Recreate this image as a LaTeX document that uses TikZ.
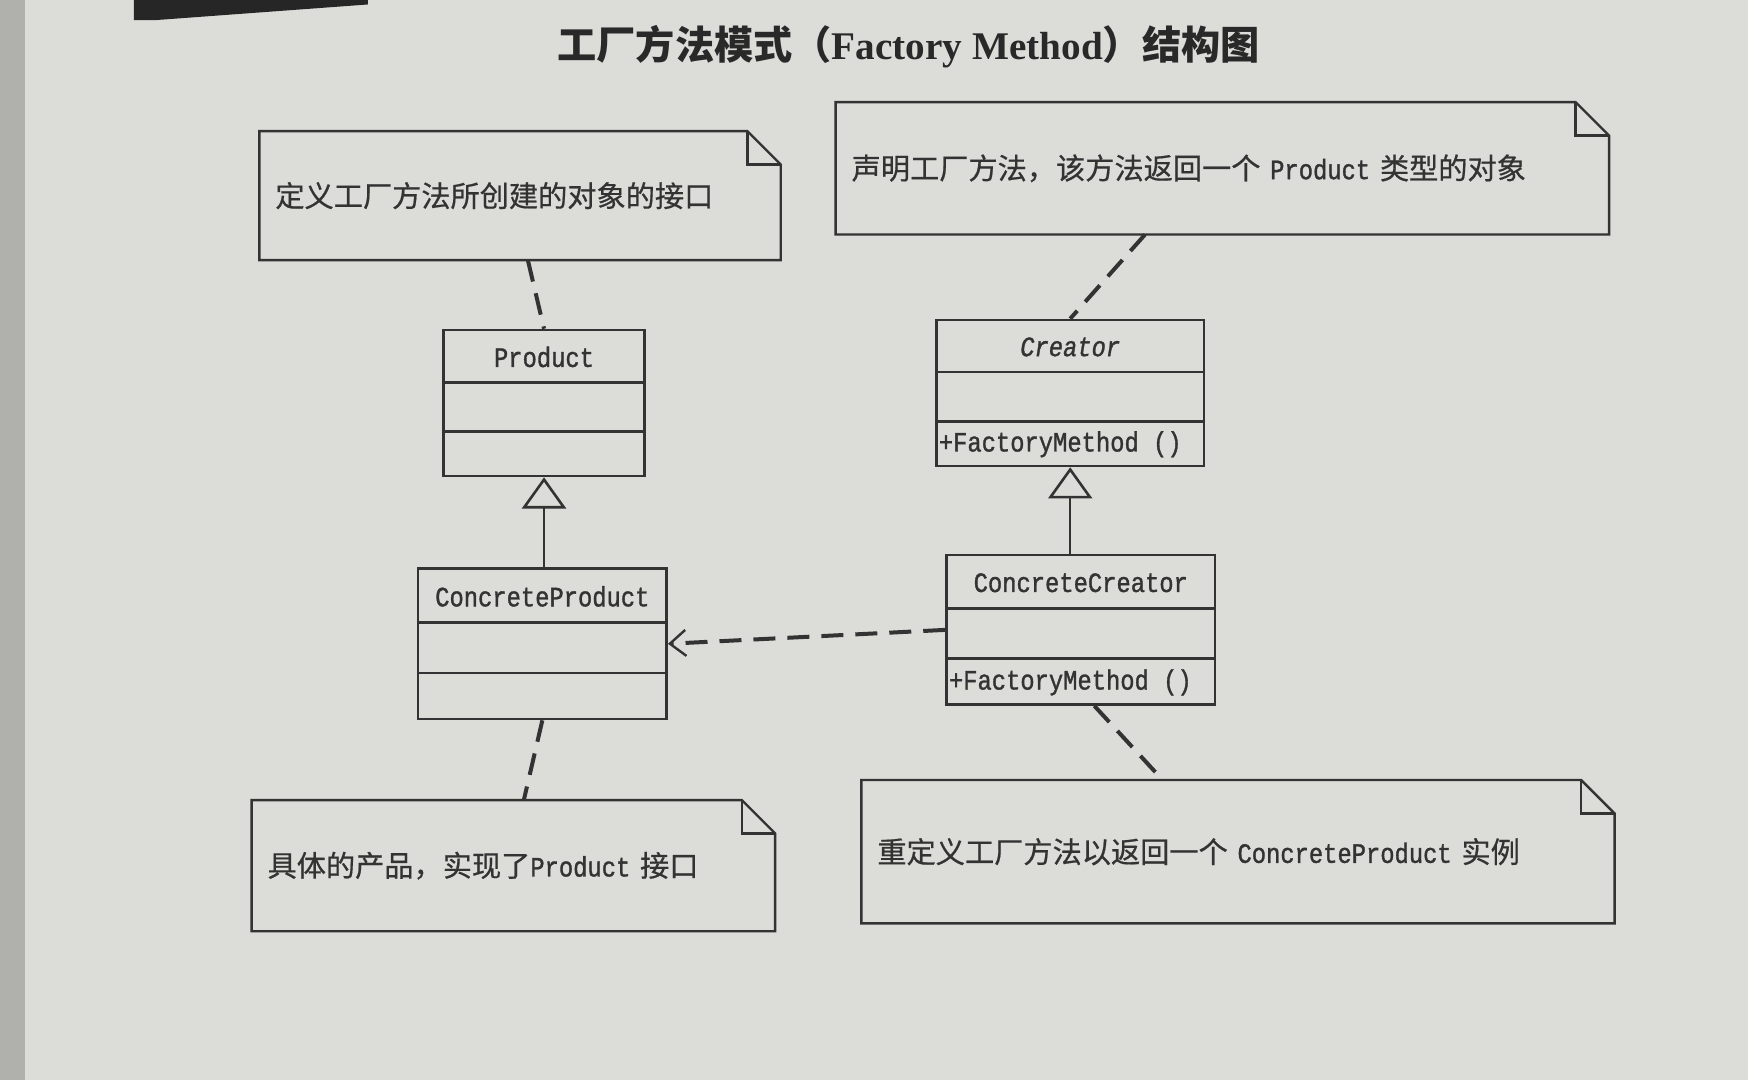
\documentclass[tikz,border=0pt]{standalone}
\usepackage{fontspec}
\setmainfont{Liberation Serif}
\newfontfamily\cjk{Noto Sans CJK SC}
\newfontfamily\notefont{Noto Sans CJK SC}[FakeBold=0.6]
\newfontfamily\umlfont{Liberation Mono}[FakeStretch=0.85, FakeBold=1.2]
\usetikzlibrary{arrows.meta,calc}

\definecolor{paper}{HTML}{DCDCD8}
\definecolor{ink}{HTML}{333333}

\newcommand\umlsize{\fontsize{14}{16}\selectfont}

\tikzset{
  classbox/.style={draw=ink, line width=1.3pt, inner sep=0pt, rectangle},
  classline/.style={draw=ink, line width=1.3pt},
  classname/.style={font=\umlfont\umlsize, text=ink, inner sep=0pt},
  classop/.style={font=\umlfont\umlsize, text=ink, inner sep=0pt, anchor=west},
  notebox/.style={rectangle, inner xsep=7.8pt, inner ysep=0pt, align=left,
    font=\notefont\fontsize{14.6}{17}\selectfont, text=ink},
  noteline/.style={draw=ink, line width=1.2pt, line join=miter},
  notelink/.style={draw=ink, line width=2pt, dash pattern=on 11pt off 6pt},
  inherit/.style={draw=ink, line width=1pt, -{Triangle[open, length=15.6pt, width=22pt, line width=1.3pt]}},
  depend/.style={draw=ink, line width=2pt, dash pattern=on 11pt off 6pt,
    -{Straight Barb[length=8pt, width=13pt, line width=1.2pt]}},
  titletext/.style={text=ink!80!black, inner sep=0pt}
}

% class box: name, centre, width, height, title, operation
\newcommand\umlclass[6]{%
  \node[classbox, minimum width=#3, minimum height=#4] (#1) at #2 {};
  \draw[classline] ($(#1.north west)!0.36!(#1.south west)$) -- ($(#1.north east)!0.36!(#1.south east)$);
  \draw[classline] ($(#1.north west)!0.69!(#1.south west)$) -- ($(#1.north east)!0.69!(#1.south east)$);
  \node[classname] (#1-title) at ($(#1.north)!0.19!(#1.south)$) {#5};
  \node[classop] (#1-op) at ($(#1.north west)!0.845!(#1.south west)+(3,0)$) {#6};
}

% note with folded corner: name, centre, width, height, text width, text
\newcommand\umlnote[6]{%
  \node[notebox, minimum width=#3, minimum height=#4, text width=#5] (#1) at #2 {#6};
  \draw[noteline] (#1.north west) -- ([xshift=-16.7pt]#1.north east)
    -- ([yshift=-16.7pt]#1.north east) -- (#1.south east) -- (#1.south west) -- cycle;
  \draw[noteline] ([xshift=-16.7pt]#1.north east) |- ([yshift=-16.7pt]#1.north east);
}

\begin{document}
\begin{tikzpicture}[x=0.5574pt, y=-0.5574pt]
  % page
  \fill[paper] (0,0) rectangle (1568,969);
  \useasboundingbox (0,0) rectangle (1568,969);
  \fill[paper!80!black] (0,0) rectangle (22,969);
  \fill[black!85] (120,0) -- (330,0) -- (330,4) -- (140,18) -- (120,18) -- cycle;

  % title
  \node[titletext] (title) at (815,42)
    {{\cjk\bfseries\fontsize{19.6}{22}\selectfont 工厂方法模式（}{\bfseries\fontsize{19.6}{22}\selectfont Factory Method}{\cjk\bfseries\fontsize{19.6}{22}\selectfont ）结构图}};

  % classes
  \umlclass{product}{(488,361.5)}{100.3pt}{73pt}{Product}{}
  \umlclass{creator}{(960,352.5)}{133.8pt}{73pt}{\itshape Creator}{+FactoryMethod ()}
  \umlclass{cproduct}{(486.5,577.5)}{124.3pt}{75.2pt}{ConcreteProduct}{}
  \umlclass{ccreator}{(969.5,565)}{134.3pt}{74.7pt}{ConcreteCreator}{+FactoryMethod ()}

  % notes
  \umlnote{note1}{(466.5,175.5)}{260.3pt}{64.1pt}{244.7pt}{定义工厂方法所创建的对象的接口}
  \umlnote{note2}{(1096.5,151)}{386.3pt}{65.8pt}{370.7pt}{声明工厂方法，该方法返回一个 {\umlfont\umlsize Product} 类型的对象}
  \umlnote{note3}{(460.5,776.5)}{261.4pt}{65.2pt}{245.8pt}{具体的产品，实现了{\umlfont\umlsize Product} 接口}
  \umlnote{note4}{(1110.5,764)}{376.2pt}{71.3pt}{360.6pt}{重定义工厂方法以返回一个 {\umlfont\umlsize ConcreteProduct} 实例}

  % generalisation
  \draw[inherit] (cproduct.north -| product.south) -- (product.south);
  \draw[inherit] (ccreator.north -| creator.south) -- (creator.south);

  % dependency
  \draw[depend] (ccreator.west) -- (cproduct.east);

  % note attachments
  \draw[notelink] ($(note1.south west)!0.515!(note1.south east)$) -- (product.north);
  \draw[notelink] ($(note2.south west)!0.40!(note2.south east)$) -- (creator.north);
  \draw[notelink] (cproduct.south) -- ($(note3.north west)!0.52!(note3.north east)$);
  \draw[notelink] ($(ccreator.south west)!0.55!(ccreator.south east)$) -- ($(note4.north west)!0.40!(note4.north east)$);
\end{tikzpicture}
\end{document}
